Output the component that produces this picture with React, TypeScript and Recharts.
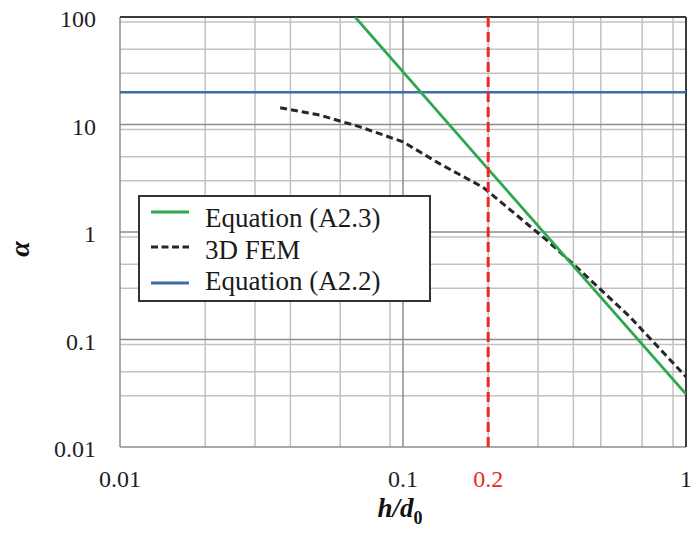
import React from "react"
import {
  LineChart, Line, XAxis, YAxis, CartesianGrid, ReferenceLine, Legend,
} from "recharts"

// tick values and their printed labels
const xTicks = [0.01, 0.1, 0.2, 1]
const xTickLabels = ["0.01", "0.1", "0.2", "1"]
const yTicks = [0.01, 0.1, 1, 10, 100]
const yTickLabels = ["0.01", "0.1", "1", "10", "100"]

// log grid
const xMinorGrid = [0.02, 0.03, 0.04, 0.05, 0.06, 0.07, 0.08, 0.09, 0.2, 0.3, 0.4, 0.5, 0.6, 0.7, 0.8, 0.9]
const xMajorGrid = [0.01, 0.1]
const yMinorGrid = [
  0.02, 0.03, 0.04, 0.05, 0.06, 0.07, 0.08, 0.09,
  0.2, 0.3, 0.4, 0.5, 0.6, 0.7, 0.8, 0.9,
  2, 3, 4, 5, 6, 7, 8, 9,
  20, 30, 40, 50, 60, 70, 80, 90,
]
const yMajorGrid = [0.01, 0.1, 1, 10]

// series
const eqA23 = [
  { x: 0.0677, y: 100 },
  { x: 0.2, y: 3.85 },
  { x: 1, y: 0.031 },
]
const fem3d = [
  { x: 0.0368, y: 14.3 },
  { x: 0.051, y: 12.2 },
  { x: 0.0705, y: 9.5 },
  { x: 0.1, y: 6.9 },
  { x: 0.135, y: 4.3 },
  { x: 0.192, y: 2.6 },
  { x: 0.322, y: 0.84 },
  { x: 0.411, y: 0.47 },
  { x: 0.634, y: 0.162 },
  { x: 1, y: 0.045 },
]
const eqA22 = [
  { x: 0.01, y: 20 },
  { x: 1, y: 20 },
]
const markerX = 0.2

const seriesNames = ["Equation (A2.3)", "3D FEM", "Equation (A2.2)"]

const GREEN = "#2ea84e"
const BLACK = "#262626"
const BLUE = "#3d6da8"
const RED = "#f0262a"
const FONT = "'Liberation Serif', 'Times New Roman', serif"

const legendRows = [
  { name: seriesNames[0], color: GREEN, dash: undefined as string | undefined },
  { name: seriesNames[1], color: BLACK, dash: "7 3.5" },
  { name: seriesNames[2], color: BLUE, dash: undefined },
]

function XTick(props: any) {
  const { x, y, payload } = props
  const i = xTicks.indexOf(payload.value)
  return (
    <text x={x} y={y + 40} textAnchor="middle" fontSize={24} fontFamily={FONT}
      fill={payload.value === markerX ? RED : "#1e1e2c"}>
      {xTickLabels[i]}
    </text>
  )
}

function YTick(props: any) {
  const { x, y, payload } = props
  const i = yTicks.indexOf(payload.value)
  return (
    <text x={x - 24} y={y + 10} textAnchor="end" fontSize={24} fontFamily={FONT} fill="#1e1e2c">
      {yTickLabels[i]}
    </text>
  )
}

function renderLegend() {
  const lineY = [17, 52, 88]
  const textY = [32, 64, 95]
  return (
    <svg width={293} height={107} style={{ display: "block" }}>
      <rect x={1} y={1} width={291} height={105} fill="#fff" stroke="#333" strokeWidth={2} />
      {legendRows.map((r, i) => (
        <g key={r.name}>
          <line x1={13} x2={51} y1={lineY[i]} y2={lineY[i]} stroke={r.color} strokeWidth={3}
            strokeDasharray={r.dash} />
          <text x={67} y={textY[i]} fontSize={27} fontFamily={FONT} fill="#1a1a1a">{r.name}</text>
        </g>
      ))}
    </svg>
  )
}

export default function App() {
  return (
    <div style={{ position: "absolute", left: 0, top: 0, background: "#fff" }}>
      <LineChart width={695} height={533} margin={{ top: 17, right: 9, bottom: 0, left: 0 }}>
        <CartesianGrid horizontalValues={yMinorGrid} verticalValues={xMinorGrid}
          stroke="#c2c2c2" strokeWidth={1.5} />
        <CartesianGrid horizontalValues={yMajorGrid} verticalValues={xMajorGrid}
          stroke="#8c8c8c" strokeWidth={1.5} />
        <CartesianGrid horizontalValues={[100]} verticalValues={[1]}
          stroke="#3a3a3a" strokeWidth={2} />
        <XAxis type="number" dataKey="x" scale="log" domain={[0.01, 1]} allowDataOverflow
          ticks={xTicks} tick={<XTick />} tickLine={false} axisLine={false}
          tickSize={0} tickMargin={0} height={86}
          label={{
            content: (p: any) => {
              const vb = p.viewBox
              const cx = vb.x + vb.width / 2 - 3
              return (
                <text x={cx} y={vb.y + 70} textAnchor="middle" fontFamily={FONT}
                  fontWeight="bold" fontStyle="italic" fontSize={27} fill="#111">
                  h/d<tspan fontSize={18} dy={7} fontStyle="normal">0</tspan>
                </text>
              )
            },
          }} />
        <YAxis type="number" dataKey="y" scale="log" domain={[0.01, 100]} allowDataOverflow
          ticks={yTicks} tick={<YTick />} tickLine={false} axisLine={false}
          tickSize={0} tickMargin={0} width={120}
          label={{
            content: (p: any) => {
              const vb = p.viewBox
              const cy = vb.y + vb.height / 2 + 17
              return (
                <text x={19} y={cy} textAnchor="middle" dominantBaseline="central"
                  transform={`rotate(-90, 19, ${cy})`} fontFamily={FONT}
                  fontWeight="bold" fontStyle="italic" fontSize={28} fill="#111">
                  α
                </text>
              )
            },
          }} />
        <Line data={eqA22} dataKey="y" name={seriesNames[2]} stroke={BLUE} strokeWidth={2.5}
          dot={false} type="linear" isAnimationActive={false} />
        <Line data={fem3d} dataKey="y" name={seriesNames[1]} stroke={BLACK} strokeWidth={3}
          strokeDasharray="7 4" dot={false} type="linear" isAnimationActive={false} />
        <Line data={eqA23} dataKey="y" name={seriesNames[0]} stroke={GREEN} strokeWidth={2.8}
          dot={false} type="linear" isAnimationActive={false} />
        <ReferenceLine x={markerX} stroke={RED} strokeWidth={3} strokeDasharray="10 5" />
        <Legend verticalAlign="middle" align="center" layout="horizontal" content={renderLegend}
          wrapperStyle={{ position: "absolute", left: 138, top: 195, width: 293, height: 107 }} />
      </LineChart>
    </div>
  )
}
